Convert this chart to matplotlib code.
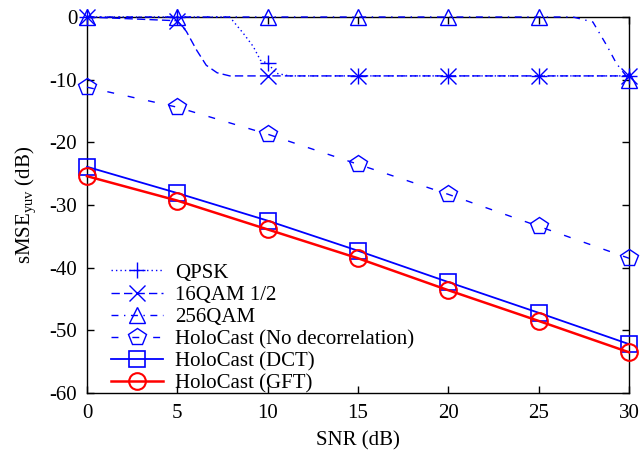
import matplotlib
matplotlib.use("Agg")
import matplotlib.pyplot as plt
import numpy as np

# marker positions (SNR, dB)
SNR = [0, 5, 10, 15, 20, 25, 30]

# curves (finer x where the curve bends)
QPSK_X = [0, 5, 7.9, 8.65, 9.2, 9.6, 10, 10.5, 11.2, 15, 20, 25, 30]
QPSK_Y = [0, 0, 0, -2.6, -4.7, -6.9, -7.4, -9.0, -9.4, -9.4, -9.4, -9.4, -9.4]

QAM16_X = [0, 5, 5.5, 6.07, 6.6, 7.2, 7.9, 10, 15, 20, 25, 30]
QAM16_Y = [0, -0.6, -2.3, -5.3, -7.7, -8.9, -9.4, -9.4, -9.4, -9.4, -9.4, -9.4]

QAM256_X = [0, 5, 10, 15, 20, 25, 26.9, 28, 28.8, 29.3, 30]
QAM256_Y = [0, 0, 0, 0, 0, 0, 0, -0.8, -4.7, -7.4, -10.0]

HOLO_NODEC = [-11.2, -14.4, -18.7, -23.5, -28.3, -33.4, -38.5]
HOLO_DCT = [-23.9, -28.1, -32.5, -37.3, -42.3, -47.2, -52.2]
HOLO_GFT = [-25.4, -29.3, -33.9, -38.5, -43.6, -48.5, -53.5]

LABELS = ["QPSK", "16QAM 1/2", "256QAM", "HoloCast (No decorrelation)",
          "HoloCast (DCT)", "HoloCast (GFT)"]

BLUE = "#0000ff"
RED = "#ff0000"

plt.rcParams["font.family"] = ["Liberation Serif", "DejaVu Serif"]
plt.rcParams["mathtext.fontset"] = "custom"
plt.rcParams["mathtext.rm"] = "Liberation Serif"
plt.rcParams["mathtext.it"] = "Liberation Serif:italic"
plt.rcParams["axes.unicode_minus"] = False
FS = 15


def mark_idx(xs):
    return [i for i, v in enumerate(xs) if v in SNR]


fig = plt.figure(figsize=(6.42, 4.58), dpi=100)
ax = fig.add_axes([87 / 642, 1 - 393 / 458, 542 / 642, 376 / 458])

ax.plot(QPSK_X, QPSK_Y, color=BLUE, lw=1.0, ls=(0, (1, 2.2)),
        marker="+", ms=12, mew=1.0, markevery=mark_idx(QPSK_X),
        clip_on=False, label=LABELS[0], zorder=5)
ax.plot(QAM16_X, QAM16_Y, color=BLUE, lw=1.0, ls=(0, (6, 3)),
        marker="x", ms=12, mew=1.0, markevery=mark_idx(QAM16_X),
        clip_on=False, label=LABELS[1], zorder=5)
ax.plot(QAM256_X, QAM256_Y, color=BLUE, lw=1.0, ls=(0, (5, 4, 1, 4)),
        marker="^", ms=12, mew=1.0, mfc="none", markevery=mark_idx(QAM256_X),
        clip_on=False, label=LABELS[2], zorder=5)
ax.plot(SNR, HOLO_NODEC, color=BLUE, lw=1.0, ls=(0, (5, 10)),
        marker="p", ms=13, mew=1.0, mfc="none",
        clip_on=False, label=LABELS[3], zorder=5)
ax.plot(SNR, HOLO_DCT, color=BLUE, lw=1.3, ls="-",
        marker="s", ms=12, mew=1.2, mfc="none",
        clip_on=False, label=LABELS[4], zorder=5)
ax.plot(SNR, HOLO_GFT, color=RED, lw=1.8, ls="-",
        marker="o", ms=12, mew=1.5, mfc="none",
        clip_on=False, label=LABELS[5], zorder=6)

ax.set_xlim(0, 30)
ax.set_ylim(-60, 0)
ax.set_xticks(SNR)
ax.set_yticks([0, -10, -20, -30, -40, -50, -60])
ax.tick_params(direction="in", length=5, width=1, top=True, right=True,
               labelsize=FS)
ax.tick_params(axis="x", pad=8)
ax.tick_params(axis="y", pad=7)
for s in ax.spines.values():
    s.set_linewidth(1.0)

ax.set_xlabel("SNR (dB)", fontsize=FS, labelpad=6)
ax.set_ylabel(r"sMSE$_{\mathrm{yuv}}$ (dB)", fontsize=FS, labelpad=8)

leg = ax.legend(loc="lower left", bbox_to_anchor=(0.04, -0.006), frameon=False,
                fontsize=FS, handlelength=2.5, handletextpad=0.6,
                labelspacing=0.12, borderpad=0.1, borderaxespad=0,
                numpoints=1)

fig.savefig("out.png", dpi=100, facecolor="white")
